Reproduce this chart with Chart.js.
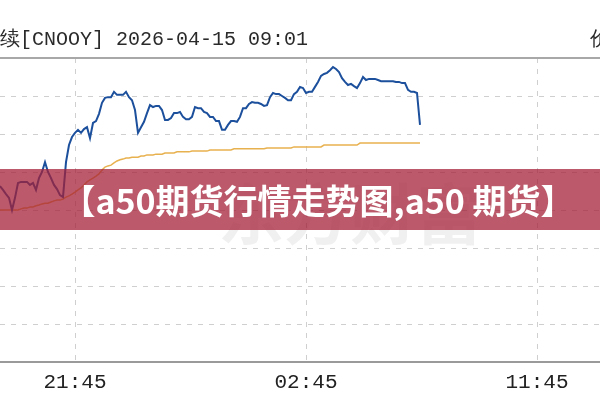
<!DOCTYPE html>
<html>
<head>
<meta charset="utf-8">
<script src="https://cdn.jsdelivr.net/npm/chart.js@4.4.1/dist/chart.umd.min.js"></script>
<style>
  html, body { margin: 0; padding: 0; background: #fff; }
  #wrap { width: 600px; height: 400px; position: relative; }
</style>
</head>
<body>
<div id="wrap"><canvas id="canvas"></canvas></div>
<script>
// one slot per sample, the clock labels sit on these slots
var tickSlots = [25, 102, 179];
var tickLabels = ["21:45", "02:45", "11:45"];

// price line (grid units, 10 per dashed line)
var priceLine = [
  46.3, 45.3, 44.2, 43.2, 40.0, 43.2, 47.1, 47.4, 47.4, 47.4,
  46.6, 47.1, 45.3, 48.4, 50.0, 52.6, 50.0, 48.4, 46.6, 45.5,
  43.9, 43.4, 52.6, 57.1, 59.2, 60.3, 61.1, 60.3, 61.3, 61.8,
  58.9, 62.9, 63.4, 65.3, 68.2, 69.5, 69.7, 69.7, 71.1, 70.3,
  70.3, 70.3, 71.1, 69.7, 68.9, 66.3, 60.3, 61.8, 63.2, 65.5,
  67.6, 67.1, 67.4, 67.4, 66.3, 63.7, 63.7, 64.2, 65.5, 65.5,
  65.8, 64.5, 63.9, 63.9, 64.5, 67.1, 66.8, 66.8, 65.8, 65.5,
  64.5, 64.5, 63.4, 63.4, 61.1, 61.1, 62.4, 63.4, 63.4, 63.2,
  64.5, 66.8, 66.8, 67.9, 68.4, 68.2, 68.2, 67.9, 67.4, 67.6,
  69.7, 70.8, 70.5, 70.5, 70.0, 69.5, 68.9, 68.9, 70.5, 71.1,
  72.4, 72.1, 70.8, 71.1, 71.1, 72.4, 73.7, 75.3, 75.8, 76.1,
  76.8, 77.6, 77.1, 76.3, 74.7, 73.7, 72.9, 73.2, 72.6, 72.1,
  73.4, 75.0, 74.2, 74.5, 74.5, 74.5, 74.2, 73.9, 73.9, 73.9,
  73.9, 73.9, 73.7, 73.7, 73.4, 73.4, 71.6, 71.1, 71.1, 70.8,
  62.4
];

// average price line
var avgLine = [
  40.0, 40.0, 40.0, 40.0, 40.0, 40.0, 40.0, 40.3, 40.5, 40.5,
  40.8, 40.8, 41.1, 41.3, 41.6, 41.8, 41.8, 42.1, 42.4, 42.6,
  42.6, 42.9, 43.4, 43.7, 44.2, 44.7, 45.3, 45.8, 46.6, 47.4,
  47.9, 48.4, 48.9, 49.5, 50.5, 51.3, 51.6, 51.8, 52.4, 52.9,
  53.2, 53.4, 53.7, 53.7, 53.9, 53.9, 53.9, 54.2, 54.2, 54.5,
  54.5, 54.5, 54.7, 54.7, 54.7, 55.0, 55.0, 55.0, 55.0, 55.3,
  55.3, 55.3, 55.3, 55.3, 55.5, 55.5, 55.5, 55.5, 55.5, 55.5,
  55.8, 55.8, 55.8, 55.8, 55.8, 55.8, 55.8, 55.8, 56.1, 56.1,
  56.1, 56.1, 56.1, 56.1, 56.1, 56.1, 56.1, 56.1, 56.1, 56.3,
  56.3, 56.3, 56.3, 56.3, 56.3, 56.3, 56.3, 56.3, 56.6, 56.6,
  56.6, 56.6, 56.6, 56.6, 56.6, 56.6, 56.6, 56.6, 57.1, 57.1,
  57.1, 57.1, 57.1, 57.1, 57.1, 57.1, 57.1, 57.1, 57.1, 57.1,
  57.6, 57.6, 57.6, 57.6, 57.6, 57.6, 57.6, 57.6, 57.6, 57.6,
  57.6, 57.6, 57.6, 57.6, 57.6, 57.6, 57.6, 57.6, 57.6, 57.6,
  57.6
];

var headerText = "续[CNOOY] 2026-04-15 09:01";
var headerCut = "价";
var bannerText = "【a50期货行情走势图,a50 期货】";
var watermarkText = "东方财富";

function toPoints(arr) {
  return arr.map(function(v, i) { return {x: i, y: v}; });
}

var overlay = {
  id: "overlay",
  beforeDatasetsDraw: function(chart) {
    var ctx = chart.ctx;
    ctx.save();
    ctx.font = "bold 66px 'Noto Sans CJK SC'";
    ctx.fillStyle = "rgba(0,0,0,0.06)";
    ctx.textAlign = "center";
    ctx.textBaseline = "middle";
    ctx.fillText(watermarkText, 350, 214);
    ctx.restore();
  },
  afterDraw: function(chart) {
    var ctx = chart.ctx, area = chart.chartArea;
    ctx.save();
    // top frame line
    ctx.strokeStyle = "#a8a8a8";
    ctx.lineWidth = 2;
    ctx.beginPath();
    ctx.moveTo(0, area.top);
    ctx.lineTo(600, area.top);
    ctx.stroke();
    // header
    ctx.fillStyle = "#2a2a2a";
    ctx.font = "20px 'Liberation Mono'";
    ctx.textBaseline = "alphabetic";
    ctx.fillText(headerText, 0, 45);
    ctx.fillText(headerCut, 590, 45);
    // banner
    ctx.fillStyle = "rgba(165,32,55,0.74)";
    ctx.fillRect(0, 169, 600, 61);
    ctx.fillStyle = "#fff";
    ctx.font = "bold 34px 'Noto Sans CJK SC'";
    ctx.textAlign = "center";
    ctx.textBaseline = "middle";
    ctx.fillText(bannerText, 318, 201);
    ctx.restore();
  }
};

var chart = new Chart(document.getElementById("canvas").getContext("2d"), {
  type: "line",
  data: {
    datasets: [{
      label: "price",
      data: toPoints(priceLine),
      borderColor: "#1c4f9c",
      borderWidth: 2,
      pointRadius: 0,
      tension: 0
    }, {
      label: "average",
      data: toPoints(avgLine),
      borderColor: "#e8b14f",
      borderWidth: 1.5,
      pointRadius: 0,
      tension: 0
    }]
  },
  options: {
    responsive: true,
    maintainAspectRatio: false,
    animation: false,
    layout: { padding: { top: 58, left: 0, right: 0, bottom: 0 } },
    plugins: { legend: { display: false }, tooltip: { enabled: false } },
    scales: {
      x: {
        type: "linear",
        min: 0,
        max: 200,
        afterBuildTicks: function(scale) {
          scale.ticks = tickSlots.map(function(v) { return {value: v}; });
        },
        afterFit: function(scale) { scale.height = 38; },
        ticks: {
          autoSkip: false,
          maxRotation: 0,
          padding: 8,
          color: "#222",
          font: { family: "Liberation Mono", size: 21 },
          callback: function(v) { return tickLabels[tickSlots.indexOf(v)]; }
        },
        grid: { color: "#cfcfcf", drawTicks: false },
        border: { display: true, color: "#9a9a9a", width: 2, dash: [5, 6] }
      },
      y: {
        min: 0,
        max: 80,
        afterFit: function(scale) { scale.width = 0; },
        ticks: { display: false, stepSize: 10 },
        grid: {
          drawTicks: false,
          color: function(c) {
            return (c.tick && (c.tick.value === 0 || c.tick.value === 80)) ? "rgba(0,0,0,0)" : "#cfcfcf";
          }
        },
        border: { display: false, dash: [5, 6] }
      }
    }
  },
  plugins: [overlay]
});
</script>
</body>
</html>
